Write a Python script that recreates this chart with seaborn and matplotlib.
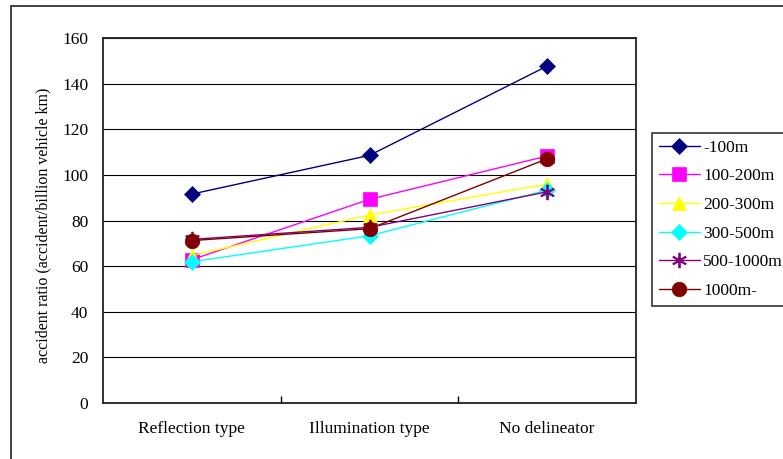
import matplotlib
matplotlib.use("Agg")
import matplotlib.pyplot as plt
import matplotlib.patches as mpatches
from matplotlib.lines import Line2D
import pandas as pd
import seaborn as sns

# Accident ratio by delineator type for each distance band
categories = ["Reflection type", "Illumination type", "No delineator"]
series_names = ["-100m", "100-200m", "200-300m", "300-500m", "500-1000m", "1000m-"]
v_100 = [91.6, 108.6, 147.8]
v_100_200 = [62.8, 89.3, 108.3]
v_200_300 = [64.6, 82.4, 96.0]
v_300_500 = [61.9, 73.3, 93.3]
v_500_1000 = [71.7, 77.0, 92.6]
v_1000 = [71.2, 76.4, 107.1]
y_ticks = [0, 20, 40, 60, 80, 100, 120, 140, 160]

values = [v_100, v_100_200, v_200_300, v_300_500, v_500_1000, v_1000]
colors = ["#000080", "#FF00FF", "#FFFF00", "#00FFFF", "#800080", "#800000"]
markers = ["D", "s", "^", "D", (6, 2, 0), "o"]
msizes = [8, 10, 10, 8, 11, 10.5]

rows = []
for name, vals in zip(series_names, values):
    for i, (cat, v) in enumerate(zip(categories, vals)):
        rows.append({"series": name, "pos": i, "category": cat, "value": v})
df = pd.DataFrame(rows)

sns.set_theme(style="white")
plt.rcParams["font.family"] = ["Liberation Serif", "DejaVu Serif"]

fig = plt.figure(figsize=(7.83, 4.59), dpi=100)
ax = fig.add_axes([103 / 783, 1 - 402.7 / 459, 533 / 783, 364.4 / 459])

handles = []
for name, col, mk, ms in zip(series_names, colors, markers, msizes):
    sub = df[df["series"] == name]
    mew = 1.3 if mk == (6, 2, 0) else 0.5
    sns.lineplot(data=sub, x="pos", y="value", ax=ax, color=col, marker=mk,
                 markersize=ms, markeredgecolor=col, markeredgewidth=mew,
                 linewidth=1.0, legend=False, zorder=3)
    handles.append(Line2D([0], [0], color=col, marker=mk, markersize=ms,
                          markeredgecolor=col, markeredgewidth=mew,
                          linewidth=1.0, label=name))

ax.set_xlim(-0.5, 2.5)
ax.set_ylim(0, 160)
ax.set_yticks(y_ticks)
ax.set_xticks(range(len(categories)))
ax.set_xticklabels(categories)
ax.set_xticks([0.5, 1.5], minor=True)
ax.tick_params(axis="x", which="major", length=0, pad=13, labelsize=12.5)
ax.tick_params(axis="x", which="minor", direction="in", length=5, width=1, color="black", bottom=True)
ax.tick_params(axis="y", length=0, pad=10.5, labelsize=12.5)
ax.set_xlabel("")
ax.set_ylabel("")
for lab in ax.get_xticklabels() + ax.get_yticklabels():
    lab.set_color("black")

ax.grid(axis="y", color="black", linewidth=0.8)
ax.grid(axis="x", visible=False)
ax.set_axisbelow(True)
for side in ["left", "right", "top", "bottom"]:
    ax.spines[side].set_visible(True)
    ax.spines[side].set_color("#222222")
    ax.spines[side].set_linewidth(1.3)
ax.set_facecolor("white")

fig.text(43 / 783, 1 - 225 / 459, "accident ratio (accident/billion vehicle km)",
         rotation=90, ha="center", va="center", fontsize=11.5, color="black")

leg = fig.legend(handles=handles, loc="upper left",
                 bbox_to_anchor=(651.7 / 783, 1 - 132.7 / 459),
                 borderaxespad=0, frameon=True, fancybox=False,
                 fontsize=12.5, handlelength=2.4, handletextpad=0.17,
                 labelspacing=0.72, borderpad=0.4)
leg.get_frame().set_edgecolor("black")
leg.get_frame().set_linewidth(1.2)
for t in leg.get_texts():
    t.set_color("black")

# Outer chart frame
fig.patches.append(mpatches.Rectangle((11 / 783, -0.1), 1.2, 1.1 - 6 / 459,
                                      transform=fig.transFigure, fill=False,
                                      edgecolor="#333333", linewidth=1.3))

fig.savefig("out.png", dpi=100, facecolor="white")
